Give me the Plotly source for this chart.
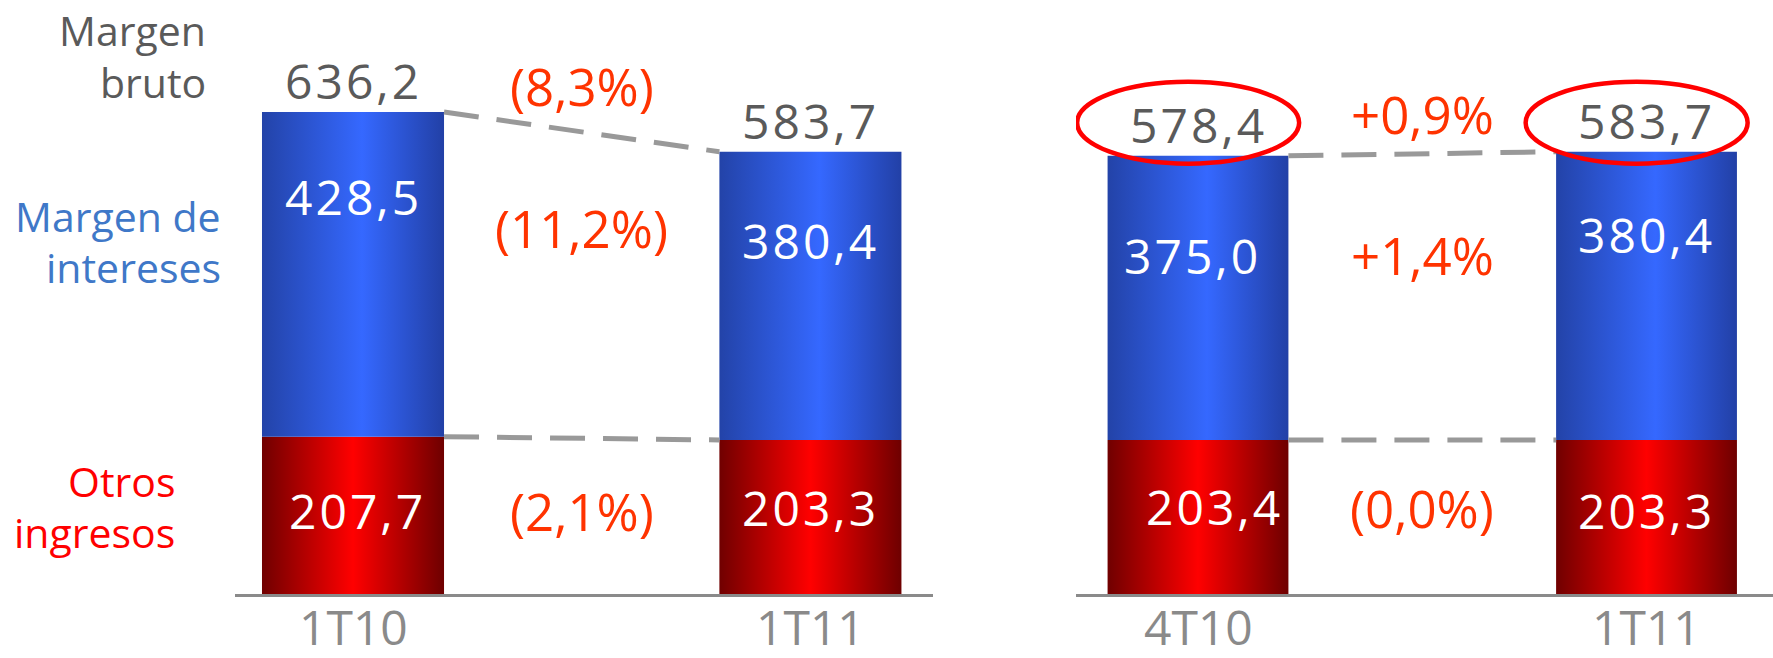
import plotly.graph_objects as go

# ---------------- data ----------------
categories_left = ["1T10", "1T11"]
categories_right = ["4T10", "1T11"]
otros_left = [207.7, 203.3]
intereses_left = [428.5, 380.4]
bruto_left = [636.2, 583.7]
otros_right = [203.4, 203.3]
intereses_right = [375.0, 380.4]
bruto_right = [578.4, 583.7]
pct_left = ["(8,3%)", "(11,2%)", "(2,1%)"]      # bruto, intereses, otros
pct_right = ["+0,9%", "+1,4%", "(0,0%)"]
series_labels = [["Margen", "bruto"], ["Margen de", "intereses"], ["Otros", "ingresos"]]

# ---------------- style ----------------
W, H = 1773, 658
PLOT_H = 594
YMAX = 784
FONT = "Open Sans"
GRAY = "#5a5a5a"
TICK_GRAY = "#8a8a8a"
PCT_COLOR = "#ff3300"
BLUE_LBL = "#3f78c8"
RED_LBL = "#ff0000"
BLUE_SCALE = [[0, "#2343a8"], [0.55, "#3568ff"], [1, "#2240a6"]]
RED_SCALE = [[0, "#700000"], [0.5, "#ff0000"], [1, "#6e0000"]]
FS_NUM = 48
FS_PCT = 51
FS_LBL = 41
FS_TICK = 48


def fmt(v):
    return '<span style="letter-spacing:3px">' + f"{v:.1f}".replace(".", ",") + "</span>"


fig = go.Figure()
annotations = []
shapes = []

panels = [
    dict(cats=categories_left, otros=otros_left, inter=intereses_left, bruto=bruto_left,
         pct=pct_left, xa="x", ya="y", half=0.199,
         inter_y=[525, 467], otros_y=[110, 114], pct_y=[670, 483, 110],
         inter_dx=[0, 0], otros_dx=[4, 0]),
    dict(cats=categories_right, otros=otros_right, inter=intereses_right, bruto=bruto_right,
         pct=pct_right, xa="x2", ya="y2", half=0.2016,
         inter_y=[447, 474], otros_y=[115, 110], pct_y=[634, 448, 114],
         inter_dx=[-6, 0], otros_dx=[16, 0]),
]

for p in panels:
    for i, cat in enumerate(p["cats"]):
        x0, x1 = i - p["half"], i + p["half"]
        o, it = p["otros"][i], p["inter"][i]
        # red segment
        fig.add_trace(go.Scatter(
            x=[x0, x1, x1, x0, x0], y=[0, 0, o, o, 0], fill="toself", mode="lines",
            line=dict(width=0), fillgradient=dict(type="horizontal", colorscale=RED_SCALE),
            xaxis=p["xa"], yaxis=p["ya"], showlegend=False, hoverinfo="skip"))
        # blue segment
        fig.add_trace(go.Scatter(
            x=[x0, x1, x1, x0, x0], y=[o, o, o + it, o + it, o], fill="toself", mode="lines",
            line=dict(width=0), fillgradient=dict(type="horizontal", colorscale=BLUE_SCALE),
            xaxis=p["xa"], yaxis=p["ya"], showlegend=False, hoverinfo="skip"))
        # labels inside
        annotations.append(dict(x=i, y=p["inter_y"][i], xref=p["xa"], yref=p["ya"], text=fmt(it),
                                showarrow=False, xshift=p["inter_dx"][i],
                                font=dict(family=FONT, size=FS_NUM, color="white")))
        annotations.append(dict(x=i, y=p["otros_y"][i], xref=p["xa"], yref=p["ya"], text=fmt(o),
                                showarrow=False, xshift=p["otros_dx"][i],
                                font=dict(family=FONT, size=FS_NUM, color="white")))
        annotations.append(dict(x=i, y=p["bruto"][i], xref=p["xa"], yref=p["ya"], text=fmt(p["bruto"][i]),
                                showarrow=False, yshift=31,
                                font=dict(family=FONT, size=FS_NUM, color=GRAY)))
        # category label under the axis
        annotations.append(dict(x=i, y=0, xref=p["xa"], yref=p["ya"], text=cat, showarrow=False,
                                yshift=-32, font=dict(family=FONT, size=FS_TICK, color=TICK_GRAY)))
    # dashed connectors
    for ys in (p["bruto"], p["otros"]):
        fig.add_trace(go.Scatter(
            x=[0 + p["half"], 1 - p["half"]], y=ys, mode="lines",
            line=dict(color="#999999", width=5, dash="35px,18px"),
            xaxis=p["xa"], yaxis=p["ya"], showlegend=False, hoverinfo="skip"))
    # percentage changes
    for k, txt in enumerate(p["pct"]):
        annotations.append(dict(x=0.5, y=p["pct_y"][k], xref=p["xa"], yref=p["ya"], text=txt,
                                showarrow=False, font=dict(family=FONT, size=FS_PCT, color=PCT_COLOR)))

# highlight ellipses around right-panel totals
for i in range(2):
    shapes.append(dict(type="circle", xref="x2", yref="y2",
                       x0=i - 0.022 - 0.2475, x1=i - 0.022 + 0.2475, y0=568, y1=676,
                       line=dict(color="#ff0000", width=4.5)))

# left-side series labels (pixel positions converted to paper)
left_label_pos = [(208, [30, 82], GRAY), (223, [216, 267], BLUE_LBL), (177, [481, 532], RED_LBL)]
for (lines, (px, pys, col)) in zip(series_labels, left_label_pos):
    for line, py in zip(lines, pys):
        annotations.append(dict(x=px / W, y=(PLOT_H - py) / PLOT_H, xref="paper", yref="paper",
                                text=line, showarrow=False, xanchor="right", yanchor="middle",
                                font=dict(family=FONT, size=FS_LBL, color=col)))

axis_common = dict(showgrid=False, zeroline=False, showline=True, linecolor=TICK_GRAY, linewidth=3,
                   showticklabels=False, ticks="", automargin=False, fixedrange=True)

fig.update_layout(
    width=W, height=H, margin=dict(l=0, r=0, t=0, b=H - PLOT_H, autoexpand=False),
    paper_bgcolor="white", plot_bgcolor="white",
    xaxis=dict(domain=[235 / W, 933 / W], range=[-0.258, 1.268], **axis_common),
    xaxis2=dict(domain=[1076 / W, 1.0], range=[-0.272, 1.282], anchor="y2", **axis_common),
    yaxis=dict(range=[0, YMAX], visible=False, fixedrange=True, automargin=False),
    yaxis2=dict(range=[0, YMAX], visible=False, fixedrange=True, anchor="x2", automargin=False),
    annotations=annotations, shapes=shapes, showlegend=False,
)

fig.write_html("out.html", config={"displayModeBar": False},
               post_script="document.body.style.margin='0';document.body.style.overflow='hidden';")
